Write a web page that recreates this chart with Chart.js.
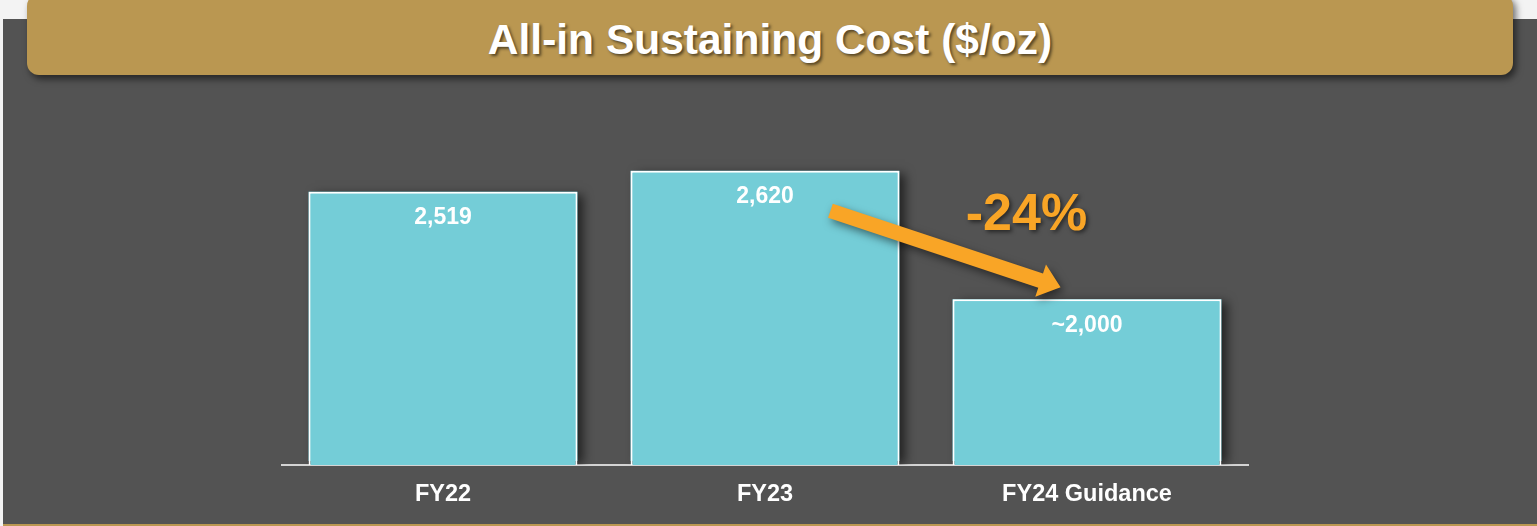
<!DOCTYPE html>
<html>
<head>
<meta charset="utf-8">
<script src="https://cdn.jsdelivr.net/npm/chart.js@4/dist/chart.umd.min.js"></script>
<style>
  html, body { margin:0; padding:0; width:1537px; height:526px; overflow:hidden; background:#f3f3f3; }
  #panel { position:absolute; left:3px; top:19px; width:1534px; height:505px; background:#535353; }
  #goldline { position:absolute; left:3px; top:524px; width:1534px; height:2px; background:#BA9751; }
  #title { position:absolute; left:27px; top:-6px; width:1486px; height:81px; background:#BA9751;
           border-radius:12px; box-shadow:3px 4px 7px rgba(0,0,0,0.55);
           font-family:"Liberation Sans", Arial, Helvetica, sans-serif; font-weight:bold; font-size:42.5px;
           color:#fff; text-align:center; line-height:92px; text-shadow:2px 2px 3px rgba(0,0,0,0.55); }
  #wrap { position:absolute; left:0; top:0; width:1537px; height:526px; }
</style>
</head>
<body>
<div id="panel"></div>
<div id="goldline"></div>
<div id="title">All-in Sustaining Cost ($/oz)</div>
<div id="wrap"><canvas id="c" width="1537" height="526"></canvas></div>
<script>
const categories = ["FY22", "FY23", "FY24 Guidance"];
const aiscValues = [2519, 2620, 2000];
const valueLabels = ["2,519", "2,620", "~2,000"];
const changeLabel = "-24%";

const FONT = '"Liberation Sans", Arial, Helvetica, sans-serif';

const shadowPlugin = {
  id: 'barShadow',
  beforeDatasetsDraw(chart) {
    const ctx = chart.ctx;
    const bars = chart.getDatasetMeta(0).data;
    const bottom = chart.chartArea.bottom;
    ctx.save();
    ctx.beginPath();
    ctx.rect(0, 0, chart.width, bottom);
    ctx.clip();
    ctx.shadowColor = 'rgba(0,0,0,0.6)';
    ctx.shadowBlur = 10;
    ctx.shadowOffsetX = 6;
    ctx.shadowOffsetY = 3;
    ctx.fillStyle = '#74CDD7';
    bars.forEach(b => {
      const p = b.getProps(['x', 'y', 'width'], true);
      ctx.fillRect(p.x - p.width / 2, p.y, p.width, bottom - p.y - 4);
    });
    ctx.restore();
  }
};

const overlayPlugin = {
  id: 'overlay',
  afterDraw(chart) {
    const ctx = chart.ctx;
    const bars = chart.getDatasetMeta(0).data;
    // value labels inside bars
    ctx.save();
    ctx.font = 'bold 23px ' + FONT;
    ctx.fillStyle = '#ffffff';
    ctx.textAlign = 'center';
    ctx.textBaseline = 'middle';
    bars.forEach((b, i) => {
      ctx.fillText(valueLabels[i], b.x, b.y + 26);
    });
    ctx.restore();

    // arrow from FY23 bar to FY24 bar
    const b1 = bars[1], b2 = bars[2];
    const w1 = b1.width, w2 = b2.width;
    const sx = b1.x + w1 / 2 - 69, sy = b1.y + 40;
    const tx = b2.x - w2 / 2 + 108, ty = b2.y - 12;
    const dx = tx - sx, dy = ty - sy;
    const len = Math.hypot(dx, dy);
    const ux = dx / len, uy = dy / len;
    const px = -uy, py = ux;
    const shaft = 7.5, headW = 17, headL = 21;
    const bx = tx - ux * headL, by = ty - uy * headL;
    ctx.save();
    ctx.shadowColor = 'rgba(0,0,0,0.5)';
    ctx.shadowBlur = 8;
    ctx.shadowOffsetX = 3;
    ctx.shadowOffsetY = 4;
    ctx.fillStyle = '#F9A526';
    ctx.beginPath();
    ctx.moveTo(sx + px * shaft, sy + py * shaft);
    ctx.lineTo(bx + px * shaft, by + py * shaft);
    ctx.lineTo(bx + px * headW, by + py * headW);
    ctx.lineTo(tx, ty);
    ctx.lineTo(bx - px * headW, by - py * headW);
    ctx.lineTo(bx - px * shaft, by - py * shaft);
    ctx.lineTo(sx - px * shaft, sy - py * shaft);
    ctx.closePath();
    ctx.fill();
    ctx.restore();

    // change label
    ctx.save();
    ctx.font = 'bold 52px ' + FONT;
    ctx.fillStyle = '#F9A526';
    ctx.textAlign = 'center';
    ctx.textBaseline = 'middle';
    ctx.shadowColor = 'rgba(0,0,0,0.55)';
    ctx.shadowBlur = 4;
    ctx.shadowOffsetX = 2;
    ctx.shadowOffsetY = 2;
    ctx.fillText(changeLabel, (b1.x + w1 / 2 + b2.x + w2 / 2) / 2 - 34, b1.y + 45);
    ctx.restore();
  }
};

new Chart(document.getElementById('c'), {
  type: 'bar',
  data: {
    labels: categories,
    datasets: [{
      data: aiscValues,
      backgroundColor: '#74CDD7',
      borderColor: '#ffffff',
      borderWidth: 2,
      borderSkipped: 'bottom',
      barPercentage: 0.835,
      categoryPercentage: 1.0
    }]
  },
  options: {
    responsive: false,
    animation: false,
    events: [],
    layout: { padding: { left: 282, right: 289, top: 92, bottom: 0 } },
    plugins: { legend: { display: false }, tooltip: { enabled: false } },
    scales: {
      x: {
        grid: { display: false, drawTicks: false },
        border: { display: true, color: '#d4d4d4', width: 2 },
        ticks: { color: '#ffffff', font: { family: FONT, size: 23.5, weight: 'bold' }, padding: 15 },
        afterFit(scale) { scale.height = 61; }
      },
      y: {
        display: false,
        min: 1200,
        max: 3000
      }
    }
  },
  plugins: [shadowPlugin, overlayPlugin]
});
</script>
</body>
</html>
